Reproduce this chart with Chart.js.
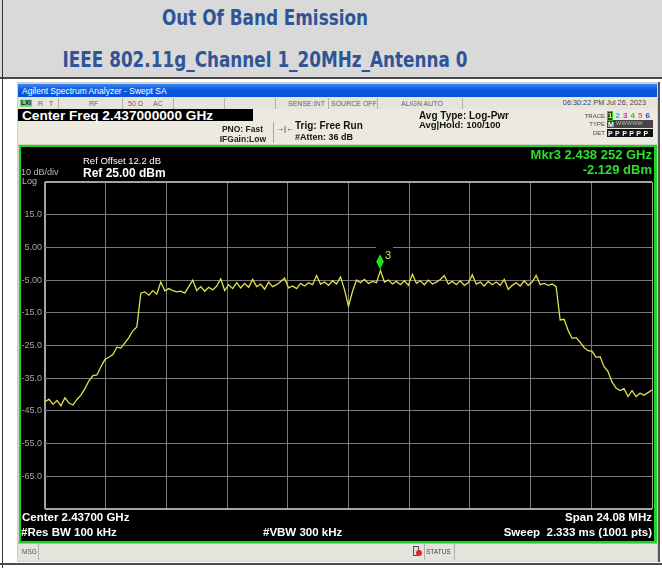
<!DOCTYPE html>
<html><head><meta charset="utf-8">
<script src="https://cdn.jsdelivr.net/npm/chart.js@4"></script>
<style>
body{margin:0;width:662px;height:568px;overflow:hidden;background:#fff;position:relative;font-family:"Liberation Sans",Arial,sans-serif;}
.abs{position:absolute;white-space:nowrap;line-height:1;}
.box{position:absolute;}
</style></head><body>
<div class="box" style="left:0;top:0;width:662px;height:78px;background:#d9d9d9"></div>
<div class="box" style="left:0;top:77px;width:662px;height:2px;background:#4a4a4a"></div>
<div class="box" style="left:2px;top:0;width:1px;height:568px;background:#333"></div>
<div class="box" style="left:0;top:563px;width:662px;height:2px;background:#4a4a4a"></div>
<!-- screenshot frame -->
<div class="box" style="left:17px;top:82px;width:641px;height:480px;background:#d4d0c8;border-right:2px solid #555"></div>
<div class="box" style="left:18px;top:84px;width:639px;height:13px;background:linear-gradient(#3c86f2,#0b5ce3 45%,#0553d6)"></div>
<div class="box" style="left:18px;top:97px;width:639px;height:12px;background:#e6e4dc;border-bottom:1px solid #b8b6ae"></div>
<div class="box" style="left:18px;top:109px;width:639px;height:35px;background:#eceade"></div>
<div class="box" style="left:18px;top:109px;width:235px;height:12px;background:#000"></div>
<div class="box" style="left:273px;top:122px;width:1px;height:21px;background:#a8a69e"></div>
<div class="box" style="left:20px;top:147px;width:635px;height:394px;background:#000"></div>
<canvas id="c" width="634" height="393" style="position:absolute;left:21px;top:147px;width:634px;height:393px"></canvas>
<div class="box" style="left:19px;top:145px;width:633px;height:394px;border:2px solid #1fd41f;border-right-width:3px;pointer-events:none"></div>
<div class="box" style="left:18px;top:543px;width:639px;height:17px;background:#e4e3dc;border-top:1px solid #b0b0b0"></div>
<div class="box" style="left:38px;top:544px;width:1px;height:16px;background:#b0b0b0"></div>
<div class="box" style="left:424px;top:544px;width:1px;height:16px;background:#b0b0b0"></div>
<div class="box" style="left:454px;top:544px;width:1px;height:16px;background:#b0b0b0"></div>
<div class="box" style="left:413px;top:546px;width:4px;height:8px;border:1px solid #555;background:#ddd"></div>
<div class="box" style="left:416px;top:550px;width:6px;height:6px;border-radius:50%;background:#e22"></div>
<script>
// ---- data ----
const centerMHz = 2437.0;
const spanMHz = 24.08;
const refLevelDbm = 25;
const bottomLevelDbm = -75;
const traceLevelsDbm = [
 -42.2,-41.4,-43.0,-41.8,-43.4,-41.0,-42.6,-43.2,-41.5,-40.2,
 -38.2,-35.8,-34.2,-34.0,-31.5,-29.3,-28.6,-27.8,-25.5,-25.8,
 -24.2,-22.6,-20.5,-19.3,-9.0,-8.6,-9.6,-8.2,-9.3,-5.6,
 -8.3,-7.6,-8.2,-8.6,-8.4,-9.0,-7.0,-5.0,-8.2,-7.0,
 -8.4,-7.2,-8.0,-6.8,-4.6,-8.2,-6.4,-7.6,-5.8,-7.4,
 -6.0,-7.2,-4.8,-7.0,-6.2,-7.8,-5.6,-7.0,-6.4,-5.4,
 -4.4,-7.4,-6.8,-7.6,-6.0,-6.8,-5.8,-6.4,-3.6,-6.2,
 -5.6,-6.6,-5.2,-6.2,-4.0,-8.0,-13.0,-8.5,-5.0,-5.8,
 -4.8,-6.0,-5.4,-5.8,-2.1,-5.6,-5.0,-6.2,-5.4,-6.4,
 -5.2,-6.6,-3.2,-6.0,-5.2,-6.4,-5.0,-6.2,-5.6,-4.8,
 -3.6,-6.2,-5.4,-6.4,-5.2,-6.6,-5.8,-3.4,-6.2,-5.6,
 -6.8,-5.4,-6.4,-5.6,-6.6,-4.8,-7.8,-6.6,-5.8,-6.8,
 -5.2,-6.6,-5.6,-3.6,-6.4,-6.0,-6.6,-6.2,-7.0,-17.2,
 -17.0,-20.4,-22.8,-22.6,-24.0,-25.6,-26.6,-26.8,-28.6,-28.4,
 -31.5,-33.0,-36.2,-38.0,-38.8,-38.2,-40.6,-38.8,-40.6,-39.6,
 -40.2,-39.4,-38.6
];
const yTickValues = [25,15,5,-5,-15,-25,-35,-45,-55,-65,-75];
const yTickLabels = ['','15.0','5.00','-5.00','-15.0','-25.0','-35.0','-45.0','-55.0','-65.0',''];
const xDivisions = [0,1,2,3,4,5,6,7,8,9,10];
const markerFreqMHz = 2438.252;
const markerLevelDbm = -2.129;
const markerLabel = '3';

// ---- build ----
const startMHz = centerMHz - spanMHz/2, stopMHz = centerMHz + spanMHz/2;
const stepMHz = spanMHz/(traceLevelsDbm.length-1);
const tracePoints = traceLevelsDbm.map((v,i)=>({x:startMHz+i*stepMHz,y:v}));
const xGridValues = xDivisions.map(k=>startMHz+k*spanMHz/10);

const markerPlugin = {
  id:'marker',
  afterDatasetsDraw(chart){
    const {ctx, scales:{x,y}} = chart;
    const px = x.getPixelForValue(markerFreqMHz), py = y.getPixelForValue(markerLevelDbm);
    ctx.save();
    ctx.fillStyle='#000';
    ctx.fillRect(px-4, py-26, 17, 8);
    ctx.fillStyle='#22e022';
    ctx.beginPath();
    ctx.moveTo(px, py-16.5); ctx.lineTo(px+3.8, py-9); ctx.lineTo(px, py-1.5); ctx.lineTo(px-3.8, py-9); ctx.closePath();
    ctx.fill();
    ctx.fillStyle='#e2e24a';
    ctx.font='11px "Liberation Sans", Arial';
    ctx.textBaseline='alphabetic';
    ctx.fillText(markerLabel, px+5, py-11.5);
    ctx.restore();
  }
};

const gridColor = v => (v===refLevelDbm||v===bottomLevelDbm)?'#a4a4a4':'#7a7a7a';
new Chart(document.getElementById('c'), {
  type:'line',
  data:{datasets:[{data:tracePoints, borderColor:'#e2e24c', borderWidth:1.3, pointRadius:0, tension:0, fill:false}]},
  options:{
    responsive:false, animation:false, devicePixelRatio:1,
    layout:{padding:{left:0,right:3,top:35,bottom:31}},
    plugins:{legend:{display:false}, tooltip:{enabled:false}},
    scales:{
      x:{type:'linear', min:startMHz, max:stopMHz,
         afterBuildTicks:s=>{s.ticks=xGridValues.map(v=>({value:v}));},
         ticks:{display:false},
         grid:{drawTicks:false, color:c=>(c.index===0||c.index===10)?'#a4a4a4':'#7a7a7a', lineWidth:c=>(c.index===0)?2:1},
         border:{display:false},
         afterFit:s=>{s.height=0;}},
      y:{type:'linear', min:bottomLevelDbm, max:refLevelDbm,
         afterBuildTicks:s=>{s.ticks=yTickValues.map(v=>({value:v}));},
         ticks:{callback:(v)=>yTickLabels[yTickValues.indexOf(v)], color:'#a6a6a6', font:{size:9,family:'"Liberation Sans", Arial'}, padding:3},
         grid:{drawTicks:false, color:c=>gridColor(c.tick.value), lineWidth:c=>(c.tick.value===refLevelDbm||c.tick.value===bottomLevelDbm)?2:1},
         border:{display:false},
         afterFit:s=>{s.width=24;}}
    }
  },
  plugins:[markerPlugin]
});

// ---- text ----
function T(txt,x,y,css,align,targetW){
  const d=document.createElement('div');
  d.className='abs'; d.textContent=txt; d.style.cssText+=css;
  d.style.top=y+'px';
  let tr='translateY(-50%)';
  if(align==='right'){d.style.right=(662-x)+'px'; d.style.transformOrigin='right center';}
  else if(align==='center'){d.style.left=x+'px'; tr='translate(-50%,-50%)';}
  else {d.style.left=x+'px'; d.style.transformOrigin='left center';}
  document.body.appendChild(d);
  if(targetW){ const w=d.offsetWidth; tr+=' scaleX('+(targetW/w)+')'; }
  d.style.transform=tr; d.style.zIndex=5;
  return d;
}
const titleCss='font-family:"Liberation Sans Narrow","DejaVu Sans Condensed",sans-serif;font-weight:bold;font-size:22px;color:#2f5597;';
T('Out Of Band Emission',265,18,titleCss,'center',206);
T('IEEE 802.11g_Channel 1_20MHz_Antenna 0',265,60,titleCss,'center',405);

T('Agilent Spectrum Analyzer - Swept SA',22,91,'font-size:8.5px;color:#fff;');
const st='font-size:7px;color:#666;';
T('LXI',20,103,'font-size:6.5px;font-weight:bold;color:#1a1a1a;background:#7c7;padding:0 1px;');
T('R',38,103,st); T('T',49,103,st); T('RF',89,103,st); T('50 Ω',128,103,st); T('AC',153,103,st);
T('SENSE:INT',288,103,st); T('SOURCE OFF',331,103,st); T('ALIGN AUTO',401,103,st);
T('06:30:22 PM Jul 26, 2023',646,103,'font-size:7.3px;color:#444;','right');
[58,122,173,224,275,328,377,462].forEach(x=>{const d=document.createElement('div');d.className='box';d.style.cssText='left:'+x+'px;top:98px;width:1px;height:11px;background:#b4b2aa';document.body.appendChild(d);});

T('Center Freq 2.437000000 GHz',22,115.5,'font-size:12.5px;font-weight:bold;color:#fff;',null,191);
T('PNO: Fast',263,129,'font-size:8.5px;font-weight:bold;color:#222;','right');
T('IFGain:Low',266,138.5,'font-size:8.5px;font-weight:bold;color:#222;','right');
T('→|←',276,129,'font-size:8px;color:#222;');
T('Trig: Free Run',295,126,'font-size:10px;font-weight:bold;color:#111;');
T('#Atten: 36 dB',295,137,'font-size:9px;font-weight:bold;color:#111;');
T('Avg Type: Log-Pwr',419,115.5,'font-size:10px;font-weight:bold;color:#111;');
T('Avg|Hold: 100/100',419,125,'font-size:9.5px;font-weight:bold;color:#111;');
T('TRACE',605,115.5,'font-size:6px;color:#444;','right');
T('TYPE',605,124,'font-size:6px;color:#444;','right');
T('DET',605,132.5,'font-size:6px;color:#444;','right');
const trColors=['#e8e830','#00b8c8','#c030c0','#30c030','#e07030','#3838e0'];
trColors.forEach((c,i)=>{
  const x=608+i*7.5;
  T(String(i+1),x,115.5,'font-size:8px;font-weight:bold;color:'+c+';'+(i===0?'background:#333;outline:1px solid #2c2;':''));
});
const tb=document.createElement('div');tb.className='box';tb.style.cssText='left:607px;top:120px;width:46px;height:8px;background:#444;z-index:4';document.body.appendChild(tb);
T('M',608,124,'font-size:7px;font-weight:bold;color:#fff;');
T('WWWWW',616,124,'font-size:5.5px;color:#bbb;letter-spacing:0.2px;');
const db=document.createElement('div');db.className='box';db.style.cssText='left:607px;top:129px;width:46px;height:8px;background:#111;z-index:4';document.body.appendChild(db);
T('P P P P P P',608,133,'font-size:7px;font-weight:bold;color:#fff;letter-spacing:0.3px;');

// display texts
T('10 dB/div',21,172,'font-size:9px;color:#b8b8b8;');
T('Log',22,180.5,'font-size:9px;color:#b8b8b8;');
T('Ref Offset 12.2 dB',83,160.5,'font-size:9.5px;color:#fff;');
T('Ref 25.00 dBm',83,172.5,'font-size:12px;font-weight:bold;color:#fff;');
T('Mkr3 2.438 252 GHz',652,154,'font-size:13px;font-weight:bold;color:#2ee02e;','right');
T('-2.129 dBm',652,169,'font-size:13px;font-weight:bold;color:#2ee02e;','right');
T('Center 2.43700 GHz',22,518,'font-size:11.5px;font-weight:bold;color:#fff;');
T('#Res BW 100 kHz',21,532.5,'font-size:11.5px;font-weight:bold;color:#fff;');
T('#VBW 300 kHz',263,532.5,'font-size:11.5px;font-weight:bold;color:#fff;');
T('Span 24.08 MHz',652,518,'font-size:11.5px;font-weight:bold;color:#fff;','right');
T('Sweep  2.333 ms (1001 pts)',652,532.5,'font-size:11.5px;font-weight:bold;color:#fff;white-space:pre;','right');
T('MSG',22,552,'font-size:6.5px;color:#555;');
T('STATUS',426,552,'font-size:6.5px;color:#444;');
</script>
</body></html>
